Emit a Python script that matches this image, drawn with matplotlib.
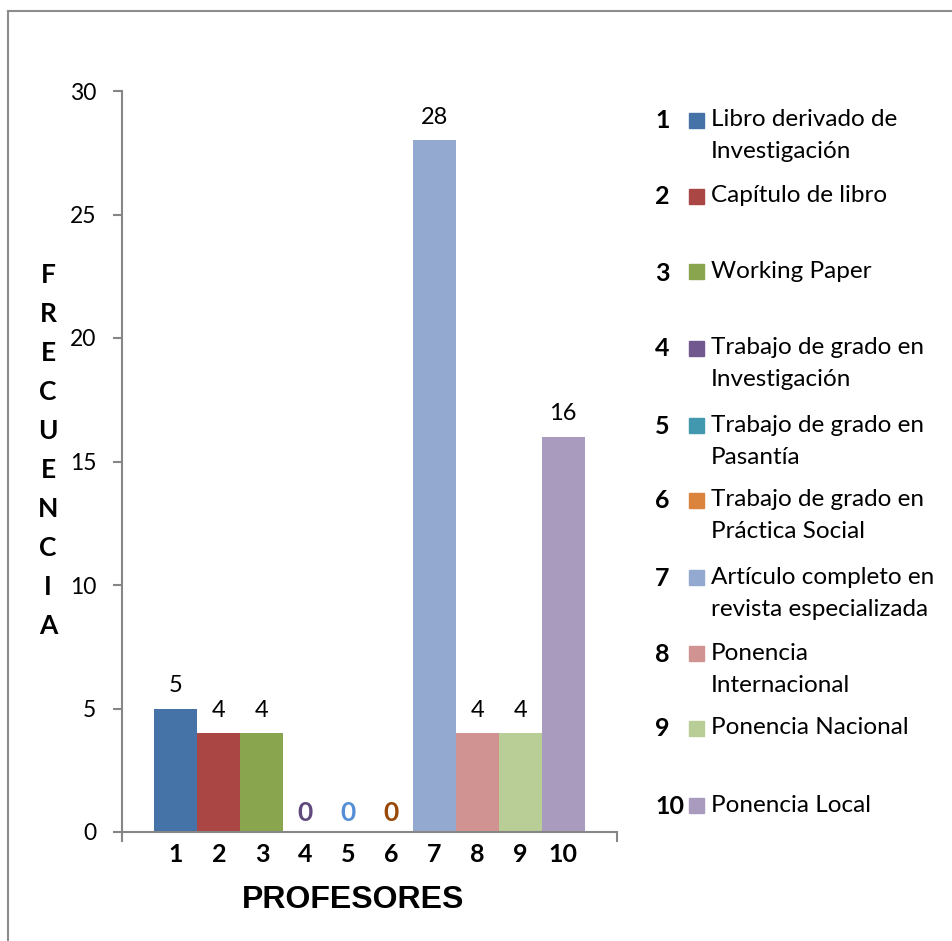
import matplotlib.pyplot as plt
from matplotlib.lines import Line2D
from matplotlib.patches import Rectangle

plt.rcParams['font.family'] = ['Lato', 'DejaVu Sans']

# datos
categorias = ['1', '2', '3', '4', '5', '6', '7', '8', '9', '10']
valores = [5, 4, 4, 0, 0, 0, 28, 4, 4, 16]
leyenda = ['Libro derivado de\nInvestigación',
           'Capítulo de libro',
           'Working Paper',
           'Trabajo de grado en\nInvestigación',
           'Trabajo de grado en\nPasantía',
           'Trabajo de grado en\nPráctica Social',
           'Artículo completo en\nrevista especializada',
           'Ponencia\nInternacional',
           'Ponencia Nacional',
           'Ponencia Local']
colores = ['#4572A7', '#AA4643', '#89A54E', '#71588F', '#4198AF',
           '#DB843D', '#93A9CF', '#D19392', '#B9CD96', '#A99BBD']
# color de las etiquetas con valor cero
colores_cero = ['black', 'black', 'black', '#604A7B', '#558ED5',
                '#984807', 'black', 'black', 'black', 'black']
gris = '#868686'

W, H = 952, 941
fig = plt.figure(figsize=(W / 100, H / 100), dpi=100)
ax = fig.add_axes([122 / W, 109 / H, 495 / W, 741 / H])

pos = list(range(1, len(valores) + 1))
ax.bar(pos, valores, width=1.0, color=colores)
ax.set_xlim(-0.25, 11.25)
ax.set_ylim(0, 30)

for s in ['top', 'right']:
    ax.spines[s].set_visible(False)
for s in ['left', 'bottom']:
    ax.spines[s].set_color(gris)
    ax.spines[s].set_linewidth(1.5)

# eje x
ax.set_xticks(pos, categorias)
ax.tick_params(axis='x', which='major', length=0, pad=8, labelsize=18)
for t in ax.get_xticklabels():
    t.set_fontweight('bold')
ax.set_xticks([-0.25, 11.25], minor=True)
ax.tick_params(axis='x', which='minor', length=7, width=1.5, color=gris)

# eje y
ax.set_yticks(range(0, 31, 5))
ax.tick_params(axis='y', length=6.5, width=1.5, color=gris, pad=12, labelsize=16.5)

# etiquetas de valores
for x, v, c in zip(pos, valores, colores_cero):
    if v > 0:
        ax.annotate(str(v), (x, v), xytext=(0, 12), textcoords='offset points',
                    ha='center', va='baseline', fontsize=17)
    else:
        ax.annotate('0', (x, 0), xytext=(0, 8), textcoords='offset points',
                    ha='center', va='baseline', fontsize=19,
                    fontweight='bold', color=c)

# titulos de ejes
fig.text(353 / W, 1 - 900 / H, 'PROFESORES', ha='center', va='center',
         fontsize=23, fontweight='bold', family=['Liberation Sans', 'DejaVu Sans'])
for i, letra in enumerate('FRECUENCIA'):
    fig.text(48 / W, 1 - (275 + i * 39) / H, letra, ha='center', va='center',
             fontsize=19, fontweight='bold')

# leyenda
filas_y = [120, 196, 272, 348, 425, 500, 577, 653, 728, 805]
for k, (txt, col, y) in enumerate(zip(leyenda, colores, filas_y)):
    fig.text(655 / W, 1 - (y + 1) / H, categorias[k], ha='left', va='center',
             fontsize=18, fontweight='bold')
    fig.patches.append(Rectangle((689 / W, 1 - (y + 7.5) / H), 15 / W, 15 / H,
                                 transform=fig.transFigure, color=col))
    for j, linea in enumerate(txt.split('\n')):
        fig.text(711 / W, 1 - (y + j * 32) / H, linea, ha='left', va='center',
                 fontsize=17.5)

# marco
fig.lines.append(Line2D([8 / W, 1], [1 - 11 / H, 1 - 11 / H],
                        transform=fig.transFigure, color='#8c8c8c', lw=1.5))
fig.lines.append(Line2D([8 / W, 8 / W], [0, 1 - 11 / H],
                        transform=fig.transFigure, color='#8c8c8c', lw=1.5))

fig.savefig('out.png', dpi=100)
